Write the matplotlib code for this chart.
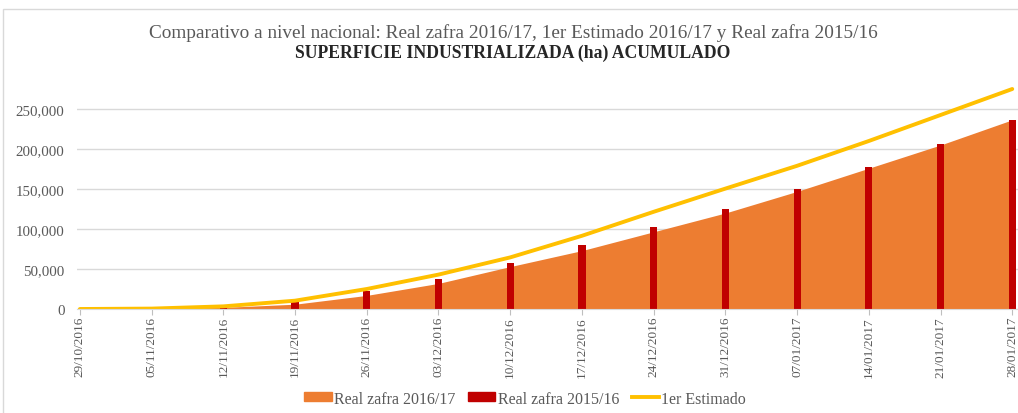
import matplotlib.pyplot as plt
from matplotlib.patches import Patch, Rectangle
from matplotlib.lines import Line2D
from matplotlib.ticker import FuncFormatter

fechas = ["29/10/2016", "05/11/2016", "12/11/2016", "19/11/2016", "26/11/2016",
          "03/12/2016", "10/12/2016", "17/12/2016", "24/12/2016", "31/12/2016",
          "07/01/2017", "14/01/2017", "21/01/2017", "28/01/2017"]
real_1617 = [0, 300, 2000, 6000, 17000, 32000, 53000, 73000, 96500, 120000,
             147000, 176000, 205000, 236500]
real_1516 = [0, 1000, 4000, 8500, 22000, 37500, 57500, 79500, 102000, 125000,
             149500, 177000, 206000, 236000]
estimado = [0, 500, 3300, 10400, 25000, 43000, 64500, 91500, 121500, 150500,
            179000, 210000, 242500, 275000]

naranja = "#ED7D31"
rojo = "#C00000"
amarillo = "#FFC000"
gris = "#595959"

plt.rcParams['font.family'] = ['Liberation Serif', 'DejaVu Serif']

fig = plt.figure(figsize=(10.18, 4.14), dpi=100)
ax = fig.add_axes([77 / 1018, 104 / 414, 941 / 1018, 224 / 414])

x = list(range(len(fechas)))
ax.fill_between(x, real_1617, 0, color=naranja, lw=0, zorder=2)
ax.bar(x, real_1516, width=0.1, color=rojo, zorder=3)
ax.plot(x, estimado, color=amarillo, lw=2.8, zorder=4, solid_capstyle='round')

ax.set_xlim(-0.04, 13.08)
ax.set_ylim(0, 280000)
ax.set_yticks(range(0, 250001, 50000))
ax.yaxis.set_major_formatter(FuncFormatter(lambda v, p: f"{int(v):,}"))
ax.set_xticks(x)
ax.set_xticklabels(fechas, rotation=90)
ax.grid(axis='y', color='#d9d9d9', lw=1, zorder=0)
ax.tick_params(axis='y', length=0, labelsize=10.7, labelcolor=gris, pad=9)
ax.tick_params(axis='x', length=4, color='#bfbfbf', labelsize=9.5, labelcolor=gris, pad=1)
for s in ['top', 'right', 'left']:
    ax.spines[s].set_visible(False)
ax.spines['bottom'].set_color('#d9d9d9')
ax.spines['bottom'].set_zorder(5)

fig.text(0.504, 0.921, "Comparativo a nivel nacional: Real zafra 2016/17, 1er Estimado 2016/17 y Real zafra 2015/16",
         ha='center', va='center', fontsize=13.9, color=gris)
fig.text(0.504, 0.872, "SUPERFICIE INDUSTRIALIZADA (ha) ACUMULADO",
         ha='center', va='center', fontsize=12.7, color='#262626', fontweight='bold')

handles = [Patch(color=naranja, label="Real zafra 2016/17"),
           Patch(color=rojo, label="Real zafra 2015/16"),
           Line2D([0], [0], color=amarillo, lw=2.8, label="1er Estimado")]
fig.legend(handles=handles, loc='center', bbox_to_anchor=(0.516, 0.035), ncol=3,
           frameon=False, fontsize=11.5, labelcolor=gris, handlelength=1.7,
           handleheight=0.5, handletextpad=0.15, columnspacing=0.8)

fig.patches.append(Rectangle((3 / 1018, -0.05), 1.1, (414 - 10) / 414 + 0.05,
                             transform=fig.transFigure, fill=False,
                             edgecolor='#d9d9d9', lw=1))

fig.savefig("out.png", dpi=100)
